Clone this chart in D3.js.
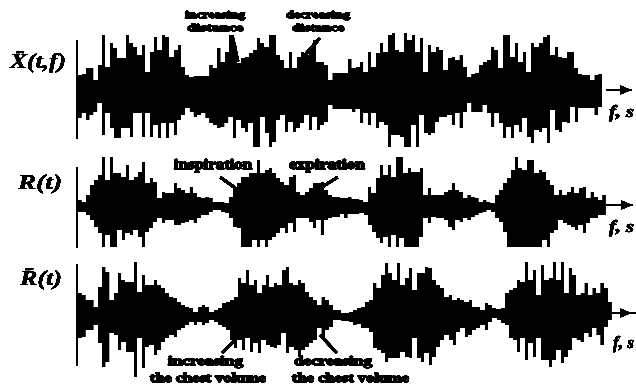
<!DOCTYPE html>
<html>
<head>
<meta charset="utf-8">
<script src="https://cdn.jsdelivr.net/npm/d3@7"></script>
<style>
body { margin: 0; background: #fff; }
text { font-family: "Liberation Serif", serif; font-weight: bold; fill: #000; stroke: #000; }
</style>
</head>
<body>
<div id="chart"></div>
<script>
// envelope, one value per sample, upper and lower side
const xUp = [17,18,24,24,12,27,57,25,49,44,34,34,57,49,45,37,47,20,40,55,42,57,55,35,42,47,25,17,15,16,16,16,16,27,24,44,30,40,57,50,29,34,35,39,42,54,49,45,57,57,37,32,24,40,24,35,40,37,45,52,30,
  30,27,12,19,19,19,19,33,24,25,30,20,40,25,39,49,40,57,59,42,40,59,52,57,40,54,20,47,40,45,42,22,34,35,32,37,25,15,18,19,27,30,32,45,42,24,57,57,35,49,30,40,20,49,45,49,55,57,37,45,35,34,40,40,24,18,17,17,12,17,18,25];
const xDown = [26,21,28,23,20,11,43,21,36,46,46,36,36,45,21,21,45,21,45,33,46,31,46,31,43,28,23,16,20,25,23,21,26,31,33,36,35,31,25,46,28,36,40,31,55,55,25,41,55,50,28,23,40,30,40,36,31,23,38,25,38,
  33,30,13,17,17,17,17,17,20,17,31,21,33,21,36,30,33,55,43,43,45,55,55,33,55,23,41,43,41,30,25,25,23,33,21,36,20,11,20,20,20,13,21,35,21,31,46,35,46,33,40,26,45,51,38,40,36,51,18,38,40,30,31,15,30,16,16,16,16,23,15];

const rUp = [7,5,12,22,27,32,50,27,50,34,34,30,42,27,30,35,45,24,29,25,9,15,14,14,24,19,17,14,20,14,10,9,10,9,5,5,5,4,10,20,24,30,30,34,34,47,34,37,39,34,29,25,22,30,32,15,12,15,19,24,24,
  25,17,12,10,10,9,9,10,8,8,7,5,20,14,29,42,32,42,30,50,50,34,39,35,35,39,12,19,12,12,12,15,17,24,17,15,9,12,10,9,5,7,5,4,12,17,24,29,37,50,39,37,47,47,34,37,35,27,22,12,17,12,15,20,14,19,20,9,15,10,7,12];
const rDown = [5,5,8,13,20,26,40,28,40,40,23,33,26,28,23,30,40,25,21,15,11,16,13,13,18,18,16,15,13,16,11,8,8,5,3,3,5,6,11,20,21,40,40,40,33,40,33,40,33,30,26,21,26,16,25,11,11,11,15,21,13,
  28,13,11,10,10,7,11,7,7,7,6,8,18,25,31,36,30,40,28,40,31,40,40,40,40,30,11,16,10,11,11,13,20,23,13,15,11,13,10,8,6,5,3,5,11,15,25,40,40,40,40,40,40,40,40,40,33,40,26,23,13,16,18,20,23,18,26,16,11,11,8,8];

const fUp = [22,20,15,15,8,28,48,43,15,22,42,35,33,33,53,23,40,30,30,35,30,27,22,18,17,13,10,8,7,3,8,10,8,3,5,7,12,13,15,18,37,32,45,30,35,22,30,40,28,32,30,45,48,32,30,35,32,23,18,15,10,
  18,15,10,5,5,2,2,3,5,7,8,13,15,32,27,40,52,42,35,52,30,37,47,25,42,42,48,47,35,30,27,18,20,15,17,15,13,15,8,8,5,12,10,7,6,7,22,25,27,35,33,53,35,45,20,50,35,37,53,35,53,22,47,40,20,22,32,20,27,22,32,27,13];
const fDown = [23,22,15,15,10,28,52,47,18,20,35,27,37,37,62,23,53,32,30,40,35,27,23,20,22,15,13,10,7,10,7,10,8,5,7,10,12,15,25,33,25,35,23,37,28,38,25,30,32,33,30,18,38,32,35,42,35,32,28,25,13,
  22,15,12,5,5,6,6,7,10,9,13,13,17,33,35,38,47,43,43,43,37,42,43,23,43,47,38,50,42,32,25,20,25,30,17,13,22,20,15,13,10,15,7,3,5,8,10,23,25,37,23,45,28,42,23,45,45,52,45,35,48,42,35,23,25,27,18,22,13,20,30,12,5];

const tracks = [
  {up: xUp, down: xDown, mid: 92, axisTop: 40, axisBottom: 139, end: 606, head: 632, stop: 632},
  {up: rUp, down: rDown, mid: 207, axisTop: 167, axisBottom: 248, end: 606, head: 633, stop: 633},
  {up: fUp, down: fDown, mid: 315, axisTop: 264, axisBottom: 366, end: 612, head: 632, stop: 636}
];

const notes = [
  {lines: ["increasing", "distance"], x: [185, 187], w: [60, 56], y: [18, 31], size: 11},
  {lines: ["decreasing", "distance"], x: [286, 292], w: [64, 52], y: [18, 31], size: 11},
  {lines: ["inspiration"], x: [174], w: [78], y: [169], size: 14},
  {lines: ["expiration"], x: [289], w: [76], y: [169], size: 14},
  {lines: ["increasing", "the chest volume"], x: [168, 150], w: [75, 116], y: [365, 382], size: 13},
  {lines: ["decreasing", "the chest volume"], x: [294, 292], w: [78, 117], y: [365, 382], size: 13}
];
const pointers = [
  [232, 35, 238, 62], [320, 38, 304, 56],
  [220, 177, 238, 190], [338, 177, 314, 192],
  [222, 353, 238, 337], [337, 353, 320, 335]
];

const width = 636, height = 385;
const svg = d3.select("#chart").append("svg")
  .attr("width", width).attr("height", height);

// the scan is blurred and hard thresholded, this gives the same rough edges
const filter = svg.append("defs").append("filter").attr("id", "scan")
  .attr("x", 0).attr("y", 0).attr("width", "100%").attr("height", "100%");
filter.append("feGaussianBlur").attr("stdDeviation", 0.7);
filter.append("feComponentTransfer").append("feFuncA")
  .attr("type", "linear").attr("slope", 5).attr("intercept", -1.6);

const root = svg.append("g").attr("filter", "url(#scan)");

tracks.forEach(function(t) {
  const x = d3.scaleBand()
    .domain(d3.range(t.up.length))
    .range([78, t.end]);
  const y = d3.scaleLinear().domain([-60, 60]).range([t.mid + 60, t.mid - 60]);

  const g = root.append("g");
  // thin spikes
  g.selectAll("rect.spike")
    .data(t.up)
    .enter()
    .append("rect")
    .attr("class", "spike")
    .attr("x", function(d, i) { return x(i) + 0.5; })
    .attr("width", x.bandwidth() - 1)
    .attr("y", function(d) { return y(d); })
    .attr("height", function(d, i) { return y(-t.down[i]) - y(d); });

  // body between neighbouring spikes
  g.selectAll("rect.body")
    .data(t.up.slice(1))
    .enter()
    .append("rect")
    .attr("class", "body")
    .attr("x", function(d, i) { return x(i) + x.bandwidth() - 1; })
    .attr("width", 2)
    .attr("y", function(d, i) { return y(Math.min(d, t.up[i])); })
    .attr("height", function(d, i) {
      return y(-Math.min(t.down[i], t.down[i + 1])) - y(Math.min(d, t.up[i]));
    });

  // y axis stem and time arrow
  g.append("line").attr("x1", 77).attr("x2", 77).attr("y1", t.axisTop).attr("y2", t.axisBottom)
    .attr("stroke", "#000").attr("stroke-width", 2.5);
  g.append("line").attr("x1", t.end).attr("x2", t.stop).attr("y1", t.mid - 2).attr("y2", t.mid - 2)
    .attr("stroke", "#000").attr("stroke-width", 1.5);
  g.append("path")
    .attr("d", d3.line()([[t.head - 12, t.mid - 7], [t.head, t.mid - 2], [t.head - 12, t.mid + 3]]))
    .attr("fill", "#000");
});

// left labels
[["X\u0304(t,f)", 10, 68, 56], ["R(t)", 18, 189, 44], ["R\u0304(t)", 20, 285, 42]].forEach(function(l) {
  root.append("text").attr("x", l[1]).attr("y", l[2])
    .attr("textLength", l[3]).attr("lengthAdjust", "spacingAndGlyphs")
    .style("font-size", "22px").style("font-style", "italic").style("stroke-width", 0.5).text(l[0]);
});
[["f, s", 609, 117, 25], ["f, s", 609, 232, 25], ["f, s", 613, 348, 21]].forEach(function(l) {
  root.append("text").attr("x", l[1]).attr("y", l[2])
    .attr("textLength", l[3]).attr("lengthAdjust", "spacingAndGlyphs")
    .style("font-size", "17px").style("font-style", "italic").style("stroke-width", 0.8).text(l[0]);
});

notes.forEach(function(n) {
  n.lines.forEach(function(s, i) {
    root.append("text")
      .attr("x", n.x[i]).attr("y", n.y[i])
      .attr("textLength", n.w[i]).attr("lengthAdjust", "spacingAndGlyphs")
      .style("font-size", n.size + "px").style("stroke-width", 1.3).text(s);
  });
});

pointers.forEach(function(p) {
  root.append("line").attr("x1", p[0]).attr("y1", p[1]).attr("x2", p[2]).attr("y2", p[3])
    .attr("stroke", "#000").attr("stroke-width", 3.5);
});
</script>
</body>
</html>
